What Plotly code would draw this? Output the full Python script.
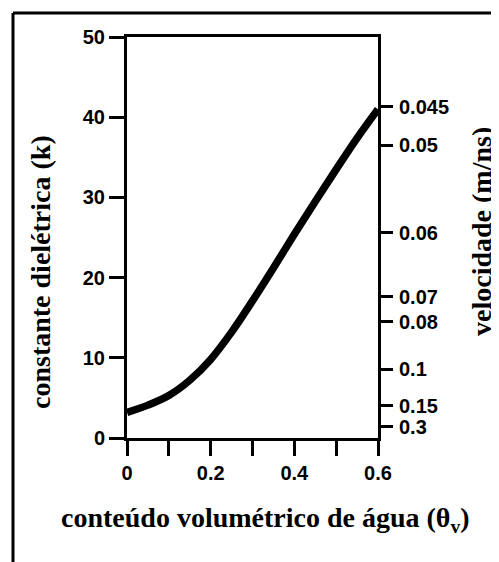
import plotly.graph_objects as go

# data
theta = [0, 0.05, 0.1, 0.15, 0.2, 0.25, 0.3, 0.35, 0.4, 0.45, 0.5, 0.55, 0.6]
k_vals = [3.2, 4.1, 5.3, 7.2, 9.8, 13.2, 17.1, 21.2, 25.4, 29.5, 33.5, 37.4, 41.0]

x_ticks = [0, 0.1, 0.2, 0.3, 0.4, 0.5, 0.6]
x_ticktext = ["0", "", "0.2", "", "0.4", "", "0.6"]
y_ticks = [0, 10, 20, 30, 40, 50]
vel_pos = [41.3, 36.5, 25.6, 17.6, 14.5, 8.6, 4.0, 1.4]
vel_text = ["0.045", "0.05", "0.06", "0.07", "0.08", "0.1", "0.15", "0.3"]

OFF = 8  # page body margin
W, H = 499 - OFF, 562 - OFF
L, R, T, B = 127 - OFF, 121, 37 - OFF, 124
pw, ph = W - L - R, H - T - B

def px(x):
    return (x - OFF - L) / pw

def py(y):
    return (H - B - (y - OFF)) / ph

tick_font = dict(family="Liberation Sans", size=20, color="black", weight="bold")
title_font = dict(family="Liberation Serif", size=28, color="black")

fig = go.Figure()
fig.add_trace(go.Scatter(x=theta, y=k_vals, mode="lines",
                         line=dict(color="black", width=7.5, shape="spline", smoothing=1.0),
                         showlegend=False, hoverinfo="skip"))
fig.add_trace(go.Scatter(x=[None], y=[None], yaxis="y2", showlegend=False))

fig.update_layout(
    width=W, height=H,
    margin=dict(l=L, r=R, t=T, b=B),
    paper_bgcolor="white", plot_bgcolor="white",
    xaxis=dict(range=[0, 0.6], tickvals=x_ticks, ticktext=x_ticktext,
               ticks="outside", ticklen=15, tickwidth=2.5, tickcolor="black",
               showline=True, linecolor="black", linewidth=3, mirror=True,
               showgrid=False, zeroline=False,
               tickfont=tick_font, ticklabelstandoff=0),
    yaxis=dict(range=[0, 50], tickvals=y_ticks,
               ticks="outside", ticklen=15, tickwidth=2.5, tickcolor="black",
               showline=True, linecolor="black", linewidth=3, mirror=True,
               showgrid=False, zeroline=False,
               tickfont=tick_font, ticklabelstandoff=0),
    yaxis2=dict(range=[0, 50], overlaying="y", side="right",
                tickvals=vel_pos, ticktext=vel_text,
                ticks="outside", ticklen=12, tickwidth=2.5, tickcolor="black",
                showline=True, linecolor="black", linewidth=3,
                showgrid=False, zeroline=False,
                tickfont=tick_font, ticklabelstandoff=2),
    font=dict(family="Liberation Sans", color="black"),
)

# titles
fig.add_annotation(text="<b>constante dielétrica (k)</b>", xref="paper", yref="paper",
                   x=px(40), y=py(272), textangle=-90, showarrow=False,
                   xanchor="center", yanchor="middle", font=title_font)
fig.add_annotation(text="<b>velocidade (m/ns)</b>", xref="paper", yref="paper",
                   x=px(481), y=py(232), textangle=-90, showarrow=False,
                   xanchor="center", yanchor="middle", font=title_font)
fig.add_annotation(text="<b>conteúdo volumétrico de água (θ<sub>v</sub>)</b>",
                   xref="paper", yref="paper",
                   x=px(265), y=py(519), showarrow=False,
                   xanchor="center", yanchor="middle", font=title_font)

# outer frame lines
fig.add_shape(type="line", xref="paper", yref="paper",
              x0=px(13), x1=px(13), y0=py(13), y1=py(575),
              line=dict(color="black", width=3))
fig.add_shape(type="line", xref="paper", yref="paper",
              x0=px(13), x1=px(515), y0=py(13), y1=py(13),
              line=dict(color="black", width=3))

fig.write_html("out.html")
